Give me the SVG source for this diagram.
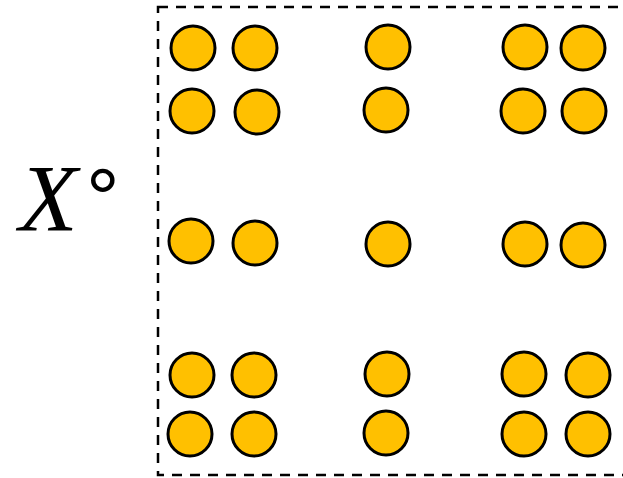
<svg xmlns="http://www.w3.org/2000/svg" width="623" height="478" viewBox="0 0 623 478">
<style>
.d{fill:#FFC000;stroke:#000;stroke-width:3}
.frame{fill:none;stroke:#000;stroke-width:2.5;stroke-dasharray:10,8}
</style>
<rect width="623" height="478" fill="#fff"/>
<rect class="frame" x="158" y="7" width="480" height="468"/>
<text x="19" y="231" font-family="Liberation Serif, serif" font-style="italic" font-size="96">X</text>
<text x="86" y="227" font-family="Liberation Sans, sans-serif" font-size="84">°</text>
<g id="dots">
<circle class="d" cx="193" cy="48" r="22"/>
<circle class="d" cx="255" cy="48" r="22"/>
<circle class="d" cx="192" cy="111" r="22"/>
<circle class="d" cx="257" cy="112" r="22"/>
<circle class="d" cx="388" cy="47" r="22"/>
<circle class="d" cx="386" cy="110" r="22"/>
<circle class="d" cx="525" cy="47" r="22"/>
<circle class="d" cx="583" cy="48" r="22"/>
<circle class="d" cx="523" cy="111" r="22"/>
<circle class="d" cx="584" cy="111" r="22"/>
<circle class="d" cx="191" cy="241" r="22"/>
<circle class="d" cx="255" cy="243" r="22"/>
<circle class="d" cx="388" cy="244" r="22"/>
<circle class="d" cx="525" cy="244" r="22"/>
<circle class="d" cx="583" cy="245" r="22"/>
<circle class="d" cx="192" cy="375" r="22"/>
<circle class="d" cx="254" cy="375" r="22"/>
<circle class="d" cx="190" cy="434" r="22"/>
<circle class="d" cx="254" cy="434" r="22"/>
<circle class="d" cx="387" cy="374" r="22"/>
<circle class="d" cx="386" cy="433" r="22"/>
<circle class="d" cx="524" cy="374" r="22"/>
<circle class="d" cx="588" cy="375" r="22"/>
<circle class="d" cx="524" cy="434" r="22"/>
<circle class="d" cx="588" cy="434" r="22"/>
</g>
</svg>
